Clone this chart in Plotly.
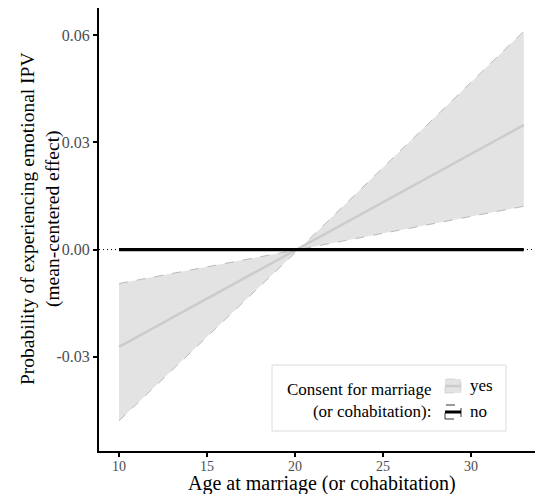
import plotly.graph_objects as go

# Data
age = [10, 20.2, 33]
yes_fit = [-0.0272, 0.0003, 0.0348]
yes_ci_a = [-0.0479, 0.0, 0.0121]
yes_ci_b = [-0.0095, 0.0, 0.0611]
no_fit = [0.0, 0.0, 0.0]

x_ticks = [10, 15, 20, 25, 30]
y_ticks = [-0.03, 0.0, 0.03, 0.06]
y_tick_labels = ["-0.03", "0.00", "0.03", "0.06"]

FONT = "Liberation Serif, Times New Roman, serif"
W, H = 535, 494
L, R, T, B = 99, 0, 8, 43
PW, PH = W - L - R, H - T - B

def px(x):
    return (x - L) / PW

def py(y):
    return (H - B - y) / PH

fig = go.Figure()

# Ribbon for "yes"
fig.add_trace(go.Scatter(x=age, y=yes_ci_a, mode="lines",
                         line=dict(color="#ababab", width=0.8, dash="dash"),
                         showlegend=False, hoverinfo="skip"))
fig.add_trace(go.Scatter(x=age, y=yes_ci_b, mode="lines", fill="tonexty",
                         fillcolor="#e3e3e3",
                         line=dict(color="#ababab", width=0.8, dash="dash"),
                         showlegend=False, hoverinfo="skip"))
# Fit lines
fig.add_trace(go.Scatter(x=age, y=yes_fit, mode="lines",
                         line=dict(color="#cccccc", width=2.5),
                         showlegend=False))
fig.add_trace(go.Scatter(x=age, y=no_fit, mode="lines",
                         line=dict(color="#000000", width=3.2),
                         showlegend=False))

shapes = []
# dotted zero reference line across the panel
shapes.append(dict(type="line", xref="paper", yref="y", x0=0, x1=1, y0=0, y1=0,
                   line=dict(color="black", width=1, dash="1px,3px"), layer="below"))

# Manual legend
shapes.append(dict(type="rect", xref="paper", yref="paper",
                   x0=px(272), x1=px(506), y0=py(431), y1=py(365),
                   line=dict(color="#dcdcdc", width=1), fillcolor="white"))
# yes key
shapes.append(dict(type="rect", xref="paper", yref="paper",
                   x0=px(445), x1=px(461), y0=py(393), y1=py(379),
                   line=dict(color="#cfcfcf", width=0.8, dash="dash"), fillcolor="#e3e3e3"))
shapes.append(dict(type="line", xref="paper", yref="paper",
                   x0=px(445), x1=px(461), y0=py(386), y1=py(386),
                   line=dict(color="#cccccc", width=2.5)))
# no key
shapes.append(dict(type="rect", xref="paper", yref="paper",
                   x0=px(445), x1=px(461), y0=py(419), y1=py(405),
                   line=dict(color="#000000", width=0.8, dash="dash"), fillcolor="white"))
shapes.append(dict(type="line", xref="paper", yref="paper",
                   x0=px(445), x1=px(461), y0=py(412), y1=py(412),
                   line=dict(color="#000000", width=3)))

annotations = [
    dict(text="Consent for marriage<br>(or cohabitation):", xref="paper", yref="paper",
         x=px(433), y=py(400), xanchor="right", yanchor="middle", align="right",
         showarrow=False, font=dict(family=FONT, size=17, color="black")),
    dict(text="yes", xref="paper", yref="paper", x=px(468), y=py(385),
         xanchor="left", yanchor="middle", showarrow=False,
         font=dict(family=FONT, size=17, color="black")),
    dict(text="no", xref="paper", yref="paper", x=px(468), y=py(411),
         xanchor="left", yanchor="middle", showarrow=False,
         font=dict(family=FONT, size=17, color="black")),
    dict(text="Age at marriage (or cohabitation)", xref="paper", yref="paper",
         x=px(322), y=py(483.5), xanchor="center", yanchor="middle", showarrow=False,
         font=dict(family=FONT, size=20, color="black")),
    dict(text="Probability of experiencing emotional IPV<br>(mean-centered effect)",
         xref="paper", yref="paper", x=px(40), y=py(219), xanchor="center",
         yanchor="middle", textangle=-90, showarrow=False,
         font=dict(family=FONT, size=19.5, color="black")),
]

fig.update_layout(
    width=W, height=H,
    margin=dict(l=L, r=R, t=T, b=B),
    paper_bgcolor="white", plot_bgcolor="white",
    font=dict(family=FONT),
    shapes=shapes, annotations=annotations,
    showlegend=False,
    xaxis=dict(range=[10 - 20 / 17.6, 10 - 20 / 17.6 + PW / 17.6],
               tickvals=x_ticks, ticks="outside", ticklen=4, tickwidth=2,
               tickcolor="black", showline=True, linecolor="black", linewidth=2,
               showgrid=False, zeroline=False, ticklabelstandoff=-3,
               tickfont=dict(family=FONT, size=14, color="#4d4d4d")),
    yaxis=dict(range=[-201 / 3566.7, 0.06 + 27 / 3566.7],
               tickvals=y_ticks, ticktext=y_tick_labels, ticks="outside",
               ticklen=4, tickwidth=2, tickcolor="black", showline=True,
               linecolor="black", linewidth=2, showgrid=False, zeroline=False,
               tickfont=dict(family=FONT, size=16, color="#4d4d4d")),
)

fig.write_html("out.html")
